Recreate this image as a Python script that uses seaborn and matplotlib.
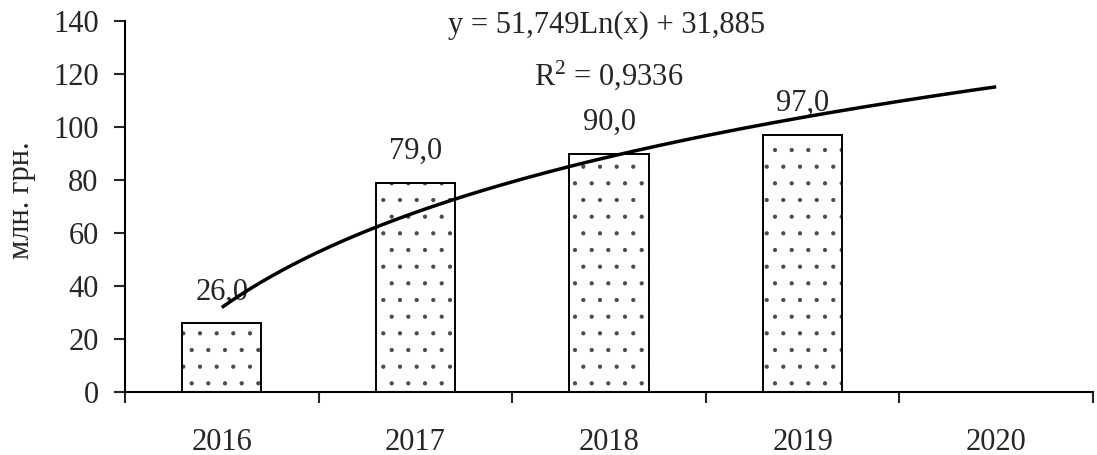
import numpy as np
import pandas as pd
import matplotlib
matplotlib.use("Agg")
import matplotlib.pyplot as plt
from matplotlib.patches import Rectangle
import seaborn as sns

# Data
years = ["2016", "2017", "2018", "2019", "2020"]
bar_years = ["2016", "2017", "2018", "2019"]
revenue = [26.0, 79.0, 90.0, 97.0]
trend_a = 51.749      # logarithmic trend: y = a*ln(x) + b
trend_b = 31.885
r_squared = 0.9336
y_ticks = [0, 20, 40, 60, 80, 100, 120, 140]
y_label = "млн. грн."


def comma(v, digits):
    return f"{v:.{digits}f}".replace(".", ",")


sns.set_style("ticks")
plt.rcParams["font.family"] = ["Liberation Serif", "DejaVu Serif"]
plt.rcParams["mathtext.fontset"] = "custom"
plt.rcParams["mathtext.rm"] = "Liberation Serif"
plt.rcParams["mathtext.it"] = "Liberation Serif"
plt.rcParams["hatch.linewidth"] = 0.6

W, H = 1097, 455
fig = plt.figure(figsize=(W / 100, H / 100), dpi=100)
ax = fig.add_axes([125 / W, 1 - 392 / H, (1093 - 125) / W, (392 - 21) / H])

df = pd.DataFrame({"year": bar_years, "value": revenue})
sns.barplot(data=df, x="year", y="value", order=years, width=0.41,
            color="white", saturation=1, edgecolor="#4a4a4a", linewidth=0,
            hatch=".", errorbar=None, ax=ax)

# Black outlines on top of the grey dotted fill
bars = ax.containers[0]
for p in bars:
    ax.add_patch(Rectangle(p.get_xy(), p.get_width(), p.get_height(),
                           fill=False, edgecolor="black", linewidth=1.4,
                           zorder=p.get_zorder() + 0.1))

# Value labels above the bars
ax.bar_label(bars, fmt=lambda v: comma(v, 1), padding=12, fontsize=22)

# Logarithmic trend line across all five years
t = np.linspace(1, len(years), 300)
ax.plot(t - 1, trend_a * np.log(t) + trend_b, color="black", lw=2.5,
        solid_capstyle="butt", zorder=5)

# Axes
ax.set_xlim(-0.5, len(years) - 0.5)
ax.set_ylim(0, 140)
ax.set_yticks(y_ticks)
ax.set_xticks(np.arange(-0.5, len(years), 1.0))
ax.set_xticklabels([])
ax.set_xticks(np.arange(len(years)), minor=True)
ax.set_xticklabels(years, minor=True)
ax.set_xlabel("")
ax.set_ylabel("")
ax.tick_params(axis="x", which="major", length=8, width=1.5, direction="out")
ax.tick_params(axis="x", which="minor", length=0, pad=26, labelsize=22)
ax.tick_params(axis="y", length=8, width=1.5, direction="out", pad=11,
               labelsize=22)
for side in ("top", "right"):
    ax.spines[side].set_visible(False)
for side in ("left", "bottom"):
    ax.spines[side].set_linewidth(1.5)
    ax.spines[side].set_color("black")

fig.text(21 / W, 1 - 200 / H, y_label, rotation=90, ha="center",
         va="center", fontsize=22)

# Trend equation and R²
fig.text(607 / W, 1 - 33 / H,
         f"y = {comma(trend_a, 3)}Ln(x) + {comma(trend_b, 3)}",
         ha="center", va="baseline", fontsize=22)
fig.text(609 / W, 1 - 85 / H, r"R$^{2}$" + f" = {comma(r_squared, 4)}",
         ha="center", va="baseline", fontsize=22)

fig.savefig("out.png", dpi=100, facecolor="white")
